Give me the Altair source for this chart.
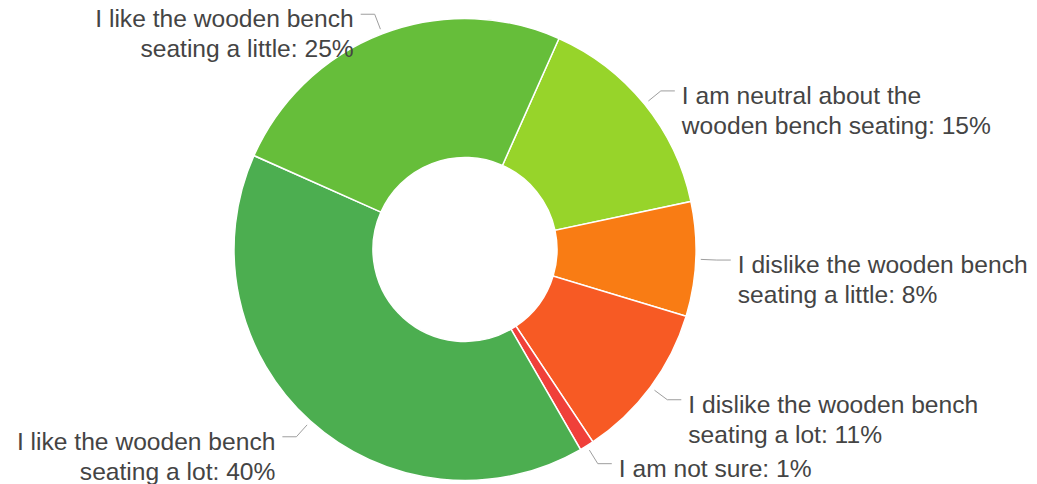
import altair as alt
import pandas as pd
import numpy as np

# ---- data ----
categories = [
    "I am neutral about the wooden bench seating",
    "I dislike the wooden bench seating a little",
    "I dislike the wooden bench seating a lot",
    "I am not sure",
    "I like the wooden bench seating a lot",
    "I like the wooden bench seating a little",
]
values = [15, 8, 11, 1, 40, 25]
line1 = [
    "I am neutral about the",
    "I dislike the wooden bench",
    "I dislike the wooden bench",
    "I am not sure: {}%",
    "I like the wooden bench",
    "I like the wooden bench",
]
line2 = [
    "wooden bench seating: {}%",
    "seating a little: {}%",
    "seating a lot: {}%",
    "",
    "seating a lot: {}%",
    "seating a little: {}%",
]
colors = ["#97d42a", "#f97c14", "#f75a24", "#f0403a", "#4cae50", "#66be3a"]

# ---- layout (pixels) ----
W, H = 1021, 476
CX, CY = 457, 241.5
R_OUT, R_IN = 231, 92
START_DEG = 24
R0, R1 = 236, 252        # leader start / elbow radius
HSEG, GAP = 14, 7
TXT_UP = 6               # text box top sits this many px above the leader

start = np.deg2rad(START_DEG)
total = float(sum(values))
vals = np.array(values, dtype=float)
cum = np.cumsum(vals)
mid = start + 2 * np.pi * (cum - vals / 2) / total

df = pd.DataFrame({
    "cat": categories,
    "value": values,
    "idx": list(range(len(values))),
})

texts = []
for a, b, v in zip(line1, line2, values):
    t = (a.format(v) + ("\n" + b.format(v) if b else ""))
    texts.append(t)
df["label"] = texts

s = np.sin(mid)
c = np.cos(mid)
side = np.where(s >= 0, 1.0, -1.0)
p0x, p0y = R0 * s / R_OUT, R0 * c / R_OUT
p1x, p1y = R1 * s / R_OUT, R1 * c / R_OUT
p2x, p2y = p1x + side * HSEG / R_OUT, p1y
df["tx"] = p2x + side * GAP / R_OUT
df["ty"] = p1y + TXT_UP / R_OUT
df["side"] = np.where(side > 0, "right", "left")

lines = []
for i, cat in enumerate(categories):
    lines += [
        {"cat": cat, "o": 0, "x": p0x[i], "y": p0y[i]},
        {"cat": cat, "o": 1, "x": p1x[i], "y": p1y[i]},
        {"cat": cat, "o": 2, "x": p2x[i], "y": p2y[i]},
    ]
lines = pd.DataFrame(lines)

xs = alt.Scale(domain=[-CX / R_OUT, (W - CX) / R_OUT], nice=False, zero=False)
ys = alt.Scale(domain=[-(H - CY) / R_OUT, CY / R_OUT], nice=False, zero=False)

pie = alt.Chart(df).mark_arc(
    outerRadius=R_OUT, innerRadius=R_IN, stroke="white", strokeWidth=1.5
).encode(
    theta=alt.Theta("value:Q", stack=True,
                    scale=alt.Scale(range=[float(start), float(start + 2 * np.pi)])),
    color=alt.Color("cat:N", scale=alt.Scale(domain=categories, range=colors), legend=None),
    order=alt.Order("idx:Q"),
    x=alt.XDatum(0, type="quantitative", scale=xs, axis=None),
    y=alt.YDatum(0, type="quantitative", scale=ys, axis=None),
)

leaders = alt.Chart(lines).mark_line(color="#9e9e9e", strokeWidth=1).encode(
    x=alt.X("x:Q", scale=xs, axis=None),
    y=alt.Y("y:Q", scale=ys, axis=None),
    detail="cat:N",
    order="o:Q",
)

txt_kw = dict(font="Arial, Liberation Sans", fontSize=24.6, color="#444444",
              lineBreak="\n", lineHeight=30, baseline="top")

right = alt.Chart(df).transform_filter(alt.datum.side == "right").mark_text(
    align="left", **txt_kw
).encode(
    x=alt.X("tx:Q", scale=xs, axis=None),
    y=alt.Y("ty:Q", scale=ys, axis=None),
    text="label:N",
)

left = alt.Chart(df).transform_filter(alt.datum.side == "left").mark_text(
    align="right", **txt_kw
).encode(
    x=alt.X("tx:Q", scale=xs, axis=None),
    y=alt.Y("ty:Q", scale=ys, axis=None),
    text="label:N",
)

chart = alt.layer(pie, leaders, right, left).properties(
    width=W, height=H, padding=0, autosize="none"
).configure_view(stroke=None)

chart.save("out.html", embed_options={"renderer": "svg", "actions": False})
